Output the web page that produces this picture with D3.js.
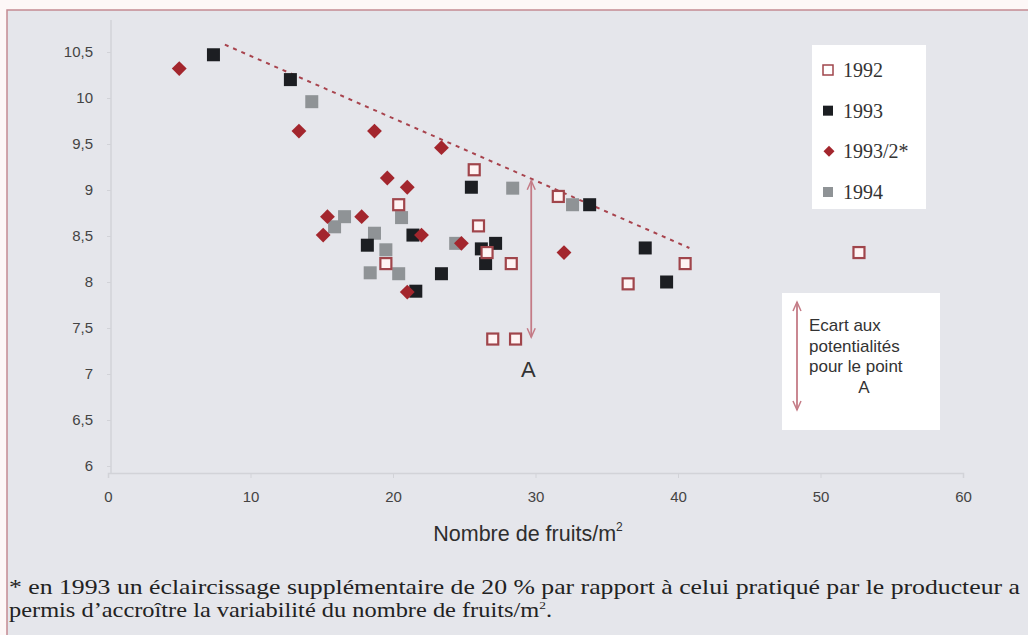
<!DOCTYPE html>
<html>
<head>
<meta charset="utf-8">
<script src="https://cdn.jsdelivr.net/npm/d3@7"></script>
<style>
  body { margin: 0; background: #fdf7f7; }
  svg { display: block; }
  text.serif, .serif text { font-family: 'Liberation Serif', 'DejaVu Serif', serif; }
  text.sans { font-family: 'Liberation Sans', Arial, sans-serif; }
</style>
</head>
<body>
<svg id="chart" width="1028" height="635"></svg>
<script>
// data: [fruits/m2, value]
const s1992 = [[25.7,9.22],[20.4,8.84],[26.0,8.61],[31.6,8.93],[28.3,8.2],[19.5,8.2],[26.6,8.32],
  [27.0,7.38],[28.6,7.38],[36.5,7.98],[40.5,8.2],[52.7,8.32]];
const s1993 = [[7.4,10.47],[12.8,10.2],[25.5,9.03],[33.8,8.84],[37.7,8.37],[39.2,8.0],[23.4,8.09],
  [26.2,8.36],[27.2,8.42],[26.5,8.2],[21.4,8.51],[21.6,7.9],[18.2,8.4]];
const s1993b = [[5.0,10.32],[13.4,9.64],[18.7,9.64],[23.4,9.46],[19.6,9.13],[21.0,9.03],[15.4,8.71],
  [17.8,8.71],[15.1,8.51],[22.0,8.51],[21.0,7.89],[24.8,8.42],[32.0,8.32]];
const s1994 = [[14.3,9.96],[16.6,8.71],[15.9,8.6],[18.7,8.53],[20.6,8.7],[19.5,8.35],[18.4,8.1],
  [20.4,8.09],[28.4,9.02],[32.6,8.84],[24.4,8.42]];
const potential = [[8.2,10.58],[40.8,8.37]];
const pointA = [29.7, 9.1, 7.4];
const xTicks = [0,10,20,30,40,50,60];
const yTicks = [6,6.5,7,7.5,8,8.5,9,9.5,10,10.5];
const legendLabels = ["1992","1993","1993/2*","1994"];

const svg = d3.select("#chart");
svg.append("rect").attr("x",7).attr("y",10).attr("width",1030).attr("height",640)
  .attr("fill","#e5e6eb").attr("stroke","#c48a92").attr("stroke-width",1.5);

const x = d3.scaleLinear().domain([0,60]).range([108,963]);
const y = d3.scaleLinear().domain([6,10.5]).range([466,52]);

const fmt = d => String(d).replace(".", ",");

// axes
const gx = svg.append("g").attr("transform","translate(0,473)")
  .call(d3.axisBottom(x).tickValues(xTicks).tickSize(5).tickPadding(13).tickFormat(fmt));
const gy = svg.append("g").attr("transform","translate(111,0)")
  .call(d3.axisLeft(y).tickValues(yTicks).tickSize(4).tickPadding(14).tickFormat(fmt));
[gx, gy].forEach(g => {
  g.select(".domain").attr("stroke","#d2d3d8").attr("stroke-width",1.5);
  g.selectAll(".tick line").attr("stroke","#d2d3d8");
  g.selectAll("text").attr("class","sans").attr("font-family",null)
    .attr("font-size",15).attr("fill","#444");
});
gy.select(".domain").attr("d","M0,20V473");

svg.append("text").attr("class","sans").attr("x",528).attr("y",541).attr("text-anchor","middle")
  .attr("font-size",21.5).attr("fill","#2e2e2e")
  .text("Nombre de fruits/m").append("tspan").attr("font-size",12).attr("dy",-10).text("2");

// potential line
svg.append("line")
  .attr("x1",x(potential[0][0])).attr("y1",y(potential[0][1]))
  .attr("x2",x(potential[1][0])).attr("y2",y(potential[1][1]))
  .attr("stroke","#a8434d").attr("stroke-width",2).attr("stroke-dasharray","4,5");

// double arrow
function dblArrow(g, xp, y1, y2, col) {
  g.append("line").attr("x1",xp).attr("x2",xp).attr("y1",y1).attr("y2",y2)
    .attr("stroke",col).attr("stroke-width",1.8);
  g.append("path").attr("d",`M${xp-4},${y1+9}L${xp},${y1}L${xp+4},${y1+9}`).attr("fill","none").attr("stroke",col).attr("stroke-width",1.5);
  g.append("path").attr("d",`M${xp-4},${y2-9}L${xp},${y2}L${xp+4},${y2-9}`).attr("fill","none").attr("stroke",col).attr("stroke-width",1.5);
}
dblArrow(svg, x(pointA[0]), y(pointA[1]), y(pointA[2]), "#c47b86");
svg.append("text").attr("class","sans").attr("x",x(pointA[0])-3).attr("y",y(pointA[2])+40).attr("text-anchor","middle")
  .attr("font-size",22).attr("fill","#333").text("A");

// markers
const sq = 13;
function squares(data, fill, stroke, size) {
  svg.append("g").selectAll("rect").data(data).join("rect")
    .attr("x", d => x(d[0]) - size/2).attr("y", d => y(d[1]) - size/2)
    .attr("width", size).attr("height", size)
    .attr("fill", fill).attr("stroke", stroke).attr("stroke-width", stroke === "none" ? 0 : 2.2);
}
squares(s1994, "#8f9396", "none", sq);
squares(s1993, "#1c1e22", "none", sq);
svg.append("g").selectAll("path").data(s1993b).join("path")
  .attr("transform", d => `translate(${x(d[0])},${y(d[1])}) rotate(45)`)
  .attr("d", d3.symbol().type(d3.symbolSquare).size(110))
  .attr("fill","#a3262d");
squares(s1992, "#fff4f4", "#a0454b", sq - 2);

// legend
const lg = svg.append("g");
lg.append("rect").attr("x",812).attr("y",45).attr("width",114).attr("height",164).attr("fill","#fff");
const legY = d3.scalePoint().domain(legendLabels).range([70,192]);
legendLabels.forEach((lab,i) => {
  const cy = legY(lab);
  if (i === 2) {
    lg.append("path").attr("transform",`translate(829,${cy}) rotate(45)`)
      .attr("d", d3.symbol().type(d3.symbolSquare).size(60)).attr("fill","#a3262d");
  } else {
    const fill = ["#fff","#1c1e22",null,"#8f9396"][i];
    lg.append("rect").attr("x",823).attr("y",cy-5).attr("width",10).attr("height",10)
      .attr("fill",fill).attr("stroke",i===0?"#a0454b":"none").attr("stroke-width",1.5);
  }
  lg.append("text").attr("class","serif").attr("x",843).attr("y",cy+7)
    .attr("font-size",20).attr("fill","#333").text(lab);
});

// annotation box
const ab = svg.append("g");
ab.append("rect").attr("x",782).attr("y",293).attr("width",158).attr("height",137).attr("fill","#fff");
dblArrow(ab, 797, 302, 410, "#c47b86");
["Ecart aux","potentialités","pour le point","A"].forEach((t,i) => {
  ab.append("text").attr("class","sans").attr("x",i===3?864:809).attr("y",331+i*20.5)
    .attr("text-anchor", i===3?"middle":"start")
    .attr("font-size",17).attr("fill","#333").text(t);
});

// footnote (wide Garamond-like face in the original: stretch the serif horizontally)
const sx = 1.22;
const fn = svg.append("g").attr("fill","#222").attr("transform",`scale(${sx},1)`);
fn.append("text").attr("class","serif").attr("x",9/sx).attr("y",594).attr("font-size",20)
  .attr("textLength",1011/sx).attr("lengthAdjust","spacingAndGlyphs")
  .text("* en 1993 un éclaircissage supplémentaire de 20 % par rapport à celui pratiqué par le producteur a");
const l2 = fn.append("text").attr("class","serif").attr("x",9/sx).attr("y",617).attr("font-size",20)
  .text("permis d\u2019accroître la variabilité du nombre de fruits/m");
l2.append("tspan").attr("font-size",11).attr("dy",-8).text("2");
l2.append("tspan").attr("dy",8).text(".");
</script>
</body>
</html>
